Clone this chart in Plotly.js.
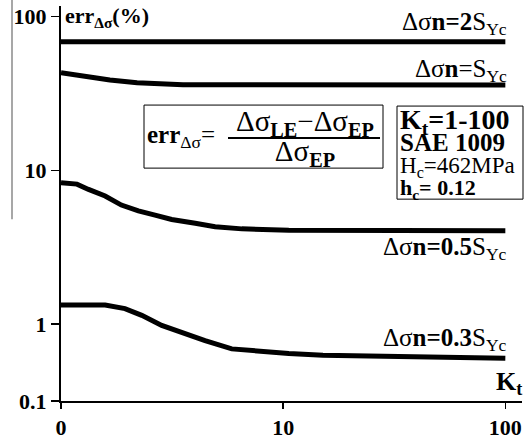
<!DOCTYPE html>
<html>
<head>
<meta charset="utf-8">
<script src="https://cdn.plot.ly/plotly-3.0.1.min.js"></script>
<style>html,body{margin:0;padding:0;background:#fff;}#chart{width:524px;height:439px;}</style>
</head>
<body>
<div id="chart"></div>
<script>
// Data (Kt on x, err in % on y)
const kt2S  = [1, 100];
const err2S = [68.5, 68.5];

const ktS  = [1, 1.28, 1.66, 2.2, 3.54, 100];
const errS = [43.1, 40.5, 38.6, 37.1, 36.0, 35.9];

const kt05  = [1, 1.18, 1.33, 1.58, 1.87, 2.23, 2.65, 3.15, 4.02, 4.94, 6.52, 10.6, 100];
const err05 = [8.30, 8.13, 7.51, 6.80, 5.94, 5.45, 5.11, 4.79, 4.52, 4.29, 4.16, 4.08, 4.05];

const kt03  = [1, 1.58, 1.94, 2.31, 2.84, 3.75, 4.45, 5.87, 7.48, 10.6, 15.1, 71.8, 100];
const err03 = [1.33, 1.33, 1.26, 1.14, 0.98, 0.85, 0.78, 0.69, 0.67, 0.644, 0.628, 0.612, 0.60];

const xTickVals = [1, 10, 100];
const xTickText = ['0', '10', '100'];
const yTickVals = [100, 10, 1, Math.pow(10, -0.5)];
const yTickText = ['100', '10', '1', '0.1'];

const seriesLabels = [
  'Δσ<b>n=2</b>S<sub>Yc</sub>',
  'Δσ<b>n</b>=S<sub>Yc</sub>',
  'Δσ<b>n=0.5</b>S<sub>Yc</sub>',
  'Δσ<b>n=0.3</b>S<sub>Yc</sub>'
];

const infoLines = [
  '<span style="font-size:28px"><b>K<sub>t</sub>=1-100</b></span>',
  '<span style="font-size:25px"><b>SAE 1009</b></span>',
  '<span style="font-size:23px">H<sub>c</sub>=462MPa</span>',
  '<span style="font-size:22px"><b>h<sub>c</sub>= 0.12</b></span>'
];

const fracText = '<span style="font-size:29px">Δσ<sub><b>LE</b></sub>−Δσ<sub><b>EP</b></sub></span>' +
                 '<br><span style="font-size:29px">Δσ<sub><b>EP</b></sub></span>';

const SERIF = 'Liberation Serif, Times New Roman, serif';
// plot area in pixels
const L = 61, R = 522, T = 6, B = 400.7;
const W = 524, H = 439;
const px = x => (x - L) / (R - L);
const py = y => (B - y) / (B - T);

function line(x, y) {
  return {x: x, y: y, type: 'scatter', mode: 'lines',
          line: {color: '#000', width: 5}, showlegend: false, hoverinfo: 'skip'};
}
const data = [line(kt2S, err2S), line(ktS, errS), line(kt05, err05), line(kt03, err03)];

function ann(text, x, y, size, xanchor, extra) {
  return Object.assign({text: text, xref: 'paper', yref: 'paper', x: px(x), y: py(y),
    xanchor: xanchor, yanchor: 'middle', showarrow: false, borderpad: 0,
    font: {family: SERIF, size: size, color: '#000'}}, extra || {});
}

const annotations = [
  ann('<b>err<sub>Δσ</sub>(%)</b>', 64, 17, 22, 'left'),
  ann(seriesLabels[0], 508, 23, 25, 'right'),
  ann(seriesLabels[1], 508, 70, 25, 'right'),
  ann(seriesLabels[2], 508, 248, 25, 'right'),
  ann(seriesLabels[3], 508, 339, 25, 'right'),
  ann('<b>K<sub>t</sub></b>', 523, 383, 26, 'right'),
  ann('<b>err</b><sub>Δσ</sub>=', 146, 136, 25, 'left'),
  ann(fracText, 305, 138, 23, 'center', {align: 'center'}),
  ann(infoLines.join('<br>'), 399, 153, 17, 'left', {align: 'left'})
];

const shapes = [
  {type: 'rect', xref: 'paper', yref: 'paper', x0: px(144), x1: px(383), y0: py(168), y1: py(105),
   line: {color: '#000', width: 1}},
  {type: 'line', xref: 'paper', yref: 'paper', x0: px(228), x1: px(380), y0: py(138), y1: py(138),
   line: {color: '#000', width: 2}},
  {type: 'rect', xref: 'paper', yref: 'paper', x0: px(397), x1: px(523), y0: py(199), y1: py(106),
   line: {color: '#000', width: 1}},
  {type: 'line', xref: 'paper', yref: 'paper', x0: px(12), x1: px(12), y0: py(0), y1: py(219),
   line: {color: '#8a8a8a', width: 1.5}}
];

const layout = {
  width: W, height: H,
  margin: {l: L, r: W - R, t: T, b: H - B, pad: 0},
  paper_bgcolor: '#fff', plot_bgcolor: '#fff',
  xaxis: {type: 'log', range: [0, 2.075], tickvals: xTickVals, ticktext: xTickText,
          showgrid: false, zeroline: false, showline: true, linecolor: '#000', linewidth: 2,
          ticks: 'outside', ticklen: 6, tickwidth: 1.5, tickcolor: '#000',
          tickfont: {family: SERIF, size: 22, color: '#000', weight: 'bold'}},
  yaxis: {type: 'log', range: [-0.5, 2.068], tickvals: yTickVals, ticktext: yTickText,
          showgrid: false, zeroline: false, showline: true, linecolor: '#000', linewidth: 2,
          ticks: 'outside', ticklen: 8, tickwidth: 1.5, tickcolor: '#000',
          tickfont: {family: SERIF, size: 22, color: '#000', weight: 'bold'}},
  annotations: annotations,
  shapes: shapes,
  showlegend: false
};

Plotly.newPlot('chart', data, layout, {staticPlot: true, displayModeBar: false});
</script>
</body>
</html>
